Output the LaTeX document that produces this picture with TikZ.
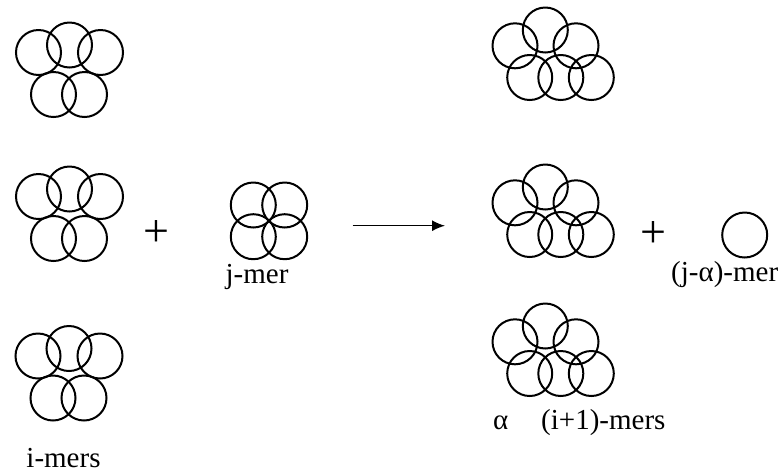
\documentclass[tikz,border=0pt]{standalone}
\usepackage{fontspec}
\setmainfont{Liberation Serif}
\usetikzlibrary{arrows.meta}
\tikzset{
  bead/.style={draw=black, circle, line width=2pt, minimum size=45pt, inner sep=0pt},
  lbl/.style={inner sep=0pt, font=\fontsize{29}{32}\selectfont},
  plussign/.style={inner sep=0pt, font=\fontsize{46}{48}\selectfont},
  reactarrow/.style={line width=1.5pt, -{Latex[length=13pt,width=11pt]}}
}
% five-bead cluster: #1 name prefix, #2 x shift, #3 y shift (px, downwards)
\newcommand{\fivecluster}[3]{%
  \node[bead] (#1l) at (38.5+#2, -52.5-#3) {};
  \node[bead] (#1t) at (69.5+#2, -45-#3) {};
  \node[bead] (#1r) at (100.5+#2, -52.5-#3) {};
  \node[bead] (#1bl) at (53.5+#2, -94.5-#3) {};
  \node[bead] (#1br) at (84.5+#2, -94.5-#3) {};
}
% six-bead cluster
\newcommand{\sixcluster}[2]{%
  \node[bead] (#1t) at (545.3, -30-#2) {};
  \node[bead] (#1l) at (515, -45.8-#2) {};
  \node[bead] (#1r) at (576, -45.8-#2) {};
  \node[bead] (#1bl) at (529.7, -77.5-#2) {};
  \node[bead] (#1bm) at (560.8, -77.5-#2) {};
  \node[bead] (#1br) at (591.3, -77.5-#2) {};
}
\begin{document}
\begin{tikzpicture}[x=1pt,y=1pt]
\useasboundingbox (0,0) rectangle (783,-475);
% i-mers (left column)
\fivecluster{ia}{0}{0}
\fivecluster{ib}{0}{144}
\fivecluster{ic}{-0.5}{303.5}
\node[lbl, anchor=base] (imers) at (63.5,-467) {i-mers};
% plus
\node[plussign] (plusA) at (156.7,-233) {+};
% j-mer
\node[bead] (jtl) at (253.3,-205) {};
\node[bead] (jtr) at (284.7,-205) {};
\node[bead] (jbl) at (253.3,-236.7) {};
\node[bead] (jbr) at (284.7,-236.7) {};
\node[lbl, anchor=base] (jmer) at (257,-283) {j-mer};
% arrow
\coordinate (arrS) at (352.7,-225.7);
\coordinate (arrE) at (445,-225.7);
\draw[reactarrow] (arrS) -- (arrE);
% (i+1)-mers
\sixcluster{pa}{0}
\sixcluster{pb}{157}
\sixcluster{pc}{296}
\node[plussign] (plusB) at (653.3,-234) {+};
\node[bead] (single) at (744.7,-235) {};
\node[lbl, anchor=base west] (jamer) at (671,-281.7) {(j-α)-mer};
\node[lbl, anchor=base west] (alpha) at (493,-429) {α};
\node[lbl, anchor=base west] (ipmers) at (541,-429) {(i+1)-mers};
\end{tikzpicture}
\end{document}
